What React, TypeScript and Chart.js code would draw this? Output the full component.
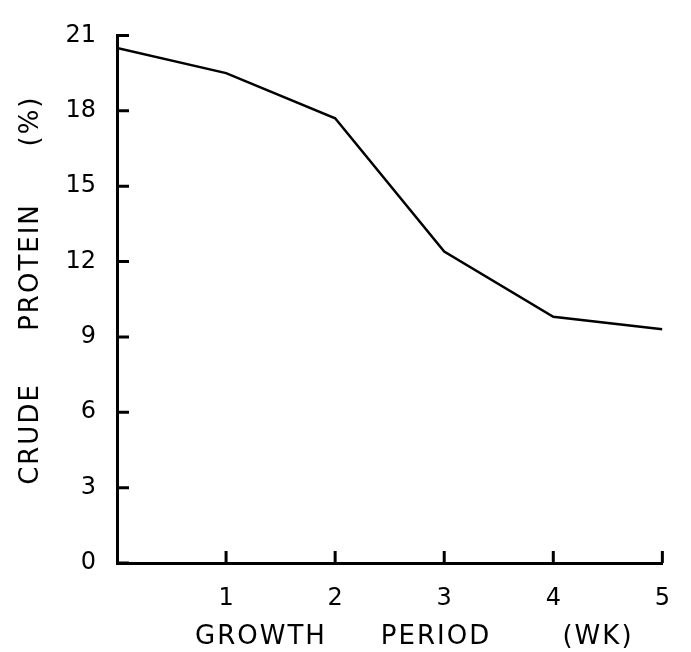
import React, { useEffect, useRef } from "react";
import { Chart, registerables } from "chart.js";

Chart.register(...registerables);

const weeks = [0, 1, 2, 3, 4, 5];
const crudeProtein = [20.5, 19.5, 17.7, 12.4, 9.8, 9.3];
const yTicks = [0, 3, 6, 9, 12, 15, 18, 21];
const xTicks = [1, 2, 3, 4, 5];
const yTitleWords = ["CRUDE", "PROTEIN", "(%)"];
const xTitleWords = ["GROWTH", "PERIOD", "(WK)"];

const FONT = "'DejaVu Sans', sans-serif";

const axisDecor = {
  id: "axisDecor",
  afterDraw(chart: any) {
    const ctx = chart.ctx;
    const xs = chart.scales.x;
    const ys = chart.scales.y;
    const area = chart.chartArea;
    ctx.save();
    ctx.strokeStyle = "#000";
    ctx.lineWidth = 3;
    ctx.beginPath();
    for (const v of yTicks) {
      const py = ys.getPixelForValue(v);
      ctx.moveTo(area.left, py);
      ctx.lineTo(area.left + 12, py);
    }
    for (const v of xTicks) {
      const px = xs.getPixelForValue(v);
      ctx.moveTo(px, area.bottom);
      ctx.lineTo(px, area.bottom - 12);
    }
    ctx.stroke();

    ctx.fillStyle = "#000";
    ctx.font = `26px ${FONT}`;
    (ctx as any).letterSpacing = "2px";
    ctx.textAlign = "center";
    ctx.textBaseline = "middle";
    const xCenters = [261, 436, 598];
    xTitleWords.forEach((w, i) => ctx.fillText(w, xCenters[i], 637));

    const yCenters = [434, 267, 121];
    yTitleWords.forEach((w, i) => {
      ctx.save();
      ctx.translate(31, yCenters[i]);
      ctx.rotate(-Math.PI / 2);
      ctx.fillText(w, 0, 0);
      ctx.restore();
    });
    ctx.restore();
  },
};

export default function App() {
  const ref = useRef<HTMLCanvasElement | null>(null);
  useEffect(() => {
    if (!ref.current) return;
    const chart = new Chart(ref.current, {
      type: "line",
      data: {
        datasets: [
          {
            data: weeks.map((w, i) => ({ x: w, y: crudeProtein[i] })),
            borderColor: "#000",
            borderWidth: 2.5,
            pointRadius: 0,
            tension: 0,
            fill: false,
          },
        ],
      },
      options: {
        responsive: false,
        animation: false,
        layout: { padding: { top: 21, right: 23, left: 0, bottom: 0 } },
        plugins: { legend: { display: false }, tooltip: { enabled: false } },
        scales: {
          x: {
            type: "linear",
            min: 0,
            max: 5,
            afterFit: (s: any) => {
              s.height = 89;
            },
            afterBuildTicks: (s: any) => {
              s.ticks = [0, ...xTicks].map((v) => ({ value: v }));
            },
            grid: { display: false, drawTicks: false },
            border: { display: true, color: "#000", width: 3 },
            ticks: {
              color: "#000",
              font: { family: FONT, size: 24 },
              padding: 21,
              maxRotation: 0,
              callback: (v: any) => (v === 0 ? "" : String(v)),
            },
          },
          y: {
            type: "linear",
            min: 0,
            max: 21,
            afterFit: (s: any) => {
              s.width = 117;
            },
            afterBuildTicks: (s: any) => {
              s.ticks = yTicks.map((v) => ({ value: v }));
            },
            grid: { display: false, drawTicks: false },
            border: { display: true, color: "#000", width: 3 },
            ticks: {
              color: "#000",
              font: { family: FONT, size: 24 },
              padding: 21,
            },
          },
        },
      },
      plugins: [axisDecor],
    });
    return () => chart.destroy();
  }, []);
  return (
    <div style={{ position: "absolute", left: 0, top: 0, width: 691, height: 652, background: "#fff" }}>
      <canvas ref={ref} width={691} height={652} style={{ display: "block" }} />
    </div>
  );
}
